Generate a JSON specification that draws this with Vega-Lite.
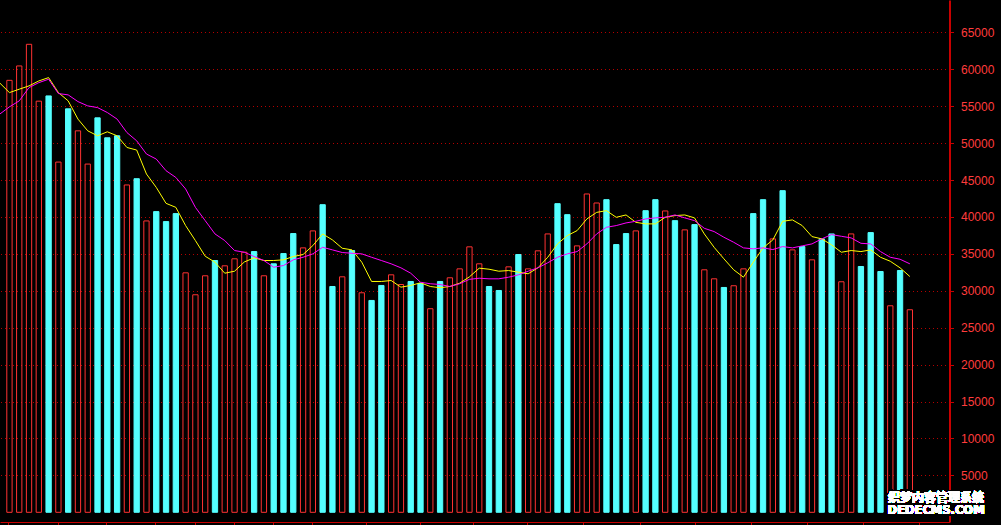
{
  "$schema": "https://vega.github.io/schema/vega-lite/v6.json",
  "autosize": "none",
  "width": 949.5,
  "height": 522,
  "padding": {"left": 0, "top": 0, "right": 51.5, "bottom": 3},
  "background": "#000000",
  "config": {"view": {"stroke": null}},
  "data": {"values": [
    {"i":-1,"m5":58150,"m10":53920},
    {"i":0,"v":58500,"t":"u","m5":56840,"m10":54910},
    {"i":1,"v":60450,"t":"u","m5":57300,"m10":55720},
    {"i":2,"v":63380,"t":"u","m5":57750,"m10":57520},
    {"i":3,"v":55680,"t":"u","m5":58420,"m10":58190},
    {"i":4,"v":56390,"t":"d","m5":58870,"m10":58650},
    {"i":5,"v":47430,"t":"u","m5":56840,"m10":56710},
    {"i":6,"v":54640,"t":"d","m5":55720,"m10":56530},
    {"i":7,"v":51660,"t":"u","m5":53250,"m10":55620},
    {"i":8,"v":47160,"t":"u","m5":51660,"m10":55040},
    {"i":9,"v":53420,"t":"d","m5":50990,"m10":54810},
    {"i":10,"v":50720,"t":"d","m5":51530,"m10":54140},
    {"i":11,"v":50990,"t":"d","m5":50990,"m10":53250},
    {"i":12,"v":44330,"t":"u","m5":49410,"m10":51430},
    {"i":13,"v":45180,"t":"d","m5":49060,"m10":50310},
    {"i":14,"v":39460,"t":"u","m5":45810,"m10":48520},
    {"i":15,"v":40720,"t":"d","m5":44000,"m10":47840},
    {"i":16,"v":39370,"t":"d","m5":41840,"m10":46260},
    {"i":17,"v":40450,"t":"d","m5":41300,"m10":45350},
    {"i":18,"v":32430,"t":"u","m5":38830,"m10":43790},
    {"i":19,"v":29460,"t":"u","m5":36800,"m10":41300},
    {"i":20,"v":32030,"t":"u","m5":34680,"m10":39500},
    {"i":21,"v":34100,"t":"d","m5":33870,"m10":37700},
    {"i":22,"v":33380,"t":"u","m5":32380,"m10":36800},
    {"i":23,"v":34330,"t":"u","m5":32650,"m10":35450},
    {"i":24,"v":35220,"t":"u","m5":33900,"m10":35220},
    {"i":25,"v":35310,"t":"d","m5":34460,"m10":34640},
    {"i":26,"v":32030,"t":"u","m5":34100,"m10":34100},
    {"i":27,"v":33650,"t":"d","m5":34100,"m10":33190},
    {"i":28,"v":35040,"t":"d","m5":34190,"m10":33420},
    {"i":29,"v":37750,"t":"d","m5":34640,"m10":34190},
    {"i":30,"v":35810,"t":"u","m5":34910,"m10":34540},
    {"i":31,"v":38110,"t":"u","m5":36120,"m10":35000},
    {"i":32,"v":41660,"t":"d","m5":37700,"m10":35890},
    {"i":33,"v":30580,"t":"d","m5":36890,"m10":35540},
    {"i":34,"v":31890,"t":"u","m5":35760,"m10":35180},
    {"i":35,"v":35450,"t":"d","m5":35540,"m10":35080},
    {"i":36,"v":29730,"t":"u","m5":33870,"m10":35000},
    {"i":37,"v":28690,"t":"d","m5":31260,"m10":34540},
    {"i":38,"v":30720,"t":"d","m5":31260,"m10":34100},
    {"i":39,"v":32160,"t":"u","m5":31390,"m10":33650},
    {"i":40,"v":30850,"t":"u","m5":30490,"m10":33110},
    {"i":41,"v":31260,"t":"d","m5":30720,"m10":32380},
    {"i":42,"v":30990,"t":"d","m5":31080,"m10":31160},
    {"i":43,"v":27570,"t":"u","m5":30580,"m10":30950},
    {"i":44,"v":31260,"t":"d","m5":30410,"m10":30850},
    {"i":45,"v":31760,"t":"u","m5":30580,"m10":30580},
    {"i":46,"v":32970,"t":"u","m5":31030,"m10":30950},
    {"i":47,"v":35950,"t":"u","m5":31890,"m10":31550},
    {"i":48,"v":33650,"t":"u","m5":33060,"m10":31700},
    {"i":49,"v":30580,"t":"d","m5":32920,"m10":31620},
    {"i":50,"v":30040,"t":"d","m5":32650,"m10":31620},
    {"i":51,"v":33240,"t":"u","m5":32740,"m10":31840},
    {"i":52,"v":34910,"t":"d","m5":32520,"m10":32160},
    {"i":53,"v":32970,"t":"u","m5":32300,"m10":32650},
    {"i":54,"v":35410,"t":"u","m5":33110,"m10":33110},
    {"i":55,"v":37700,"t":"u","m5":34540,"m10":33790},
    {"i":56,"v":41800,"t":"d","m5":36350,"m10":34540},
    {"i":57,"v":40310,"t":"d","m5":37470,"m10":35000},
    {"i":58,"v":36080,"t":"u","m5":38150,"m10":35310},
    {"i":59,"v":43110,"t":"u","m5":39730,"m10":36350},
    {"i":60,"v":41890,"t":"u","m5":40620,"m10":37700},
    {"i":61,"v":42340,"t":"d","m5":40850,"m10":38600},
    {"i":62,"v":36260,"t":"d","m5":39950,"m10":38830},
    {"i":63,"v":37750,"t":"d","m5":40270,"m10":39190},
    {"i":64,"v":38110,"t":"u","m5":39270,"m10":39410},
    {"i":65,"v":40850,"t":"d","m5":39060,"m10":39730},
    {"i":66,"v":42340,"t":"d","m5":39060,"m10":39870},
    {"i":67,"v":40810,"t":"u","m5":39950,"m10":39950},
    {"i":68,"v":39500,"t":"d","m5":40180,"m10":40270},
    {"i":69,"v":38250,"t":"u","m5":40270,"m10":39870},
    {"i":70,"v":38960,"t":"d","m5":39870,"m10":39500},
    {"i":71,"v":32840,"t":"u","m5":37700,"m10":38460},
    {"i":72,"v":31620,"t":"u","m5":35890,"m10":38020},
    {"i":73,"v":30450,"t":"d","m5":34330,"m10":37250},
    {"i":74,"v":30680,"t":"u","m5":32840,"m10":36570},
    {"i":75,"v":32970,"t":"u","m5":31840,"m10":35810},
    {"i":76,"v":40450,"t":"d","m5":33870,"m10":35680},
    {"i":77,"v":42340,"t":"d","m5":35810,"m10":35810},
    {"i":78,"v":37030,"t":"u","m5":36890,"m10":35580},
    {"i":79,"v":43560,"t":"d","m5":39410,"m10":35990},
    {"i":80,"v":35540,"t":"u","m5":39600,"m10":35810},
    {"i":81,"v":35990,"t":"d","m5":38830,"m10":36080},
    {"i":82,"v":34190,"t":"u","m5":37340,"m10":36350},
    {"i":83,"v":37030,"t":"d","m5":37030,"m10":37030},
    {"i":84,"v":37700,"t":"d","m5":36220,"m10":37610},
    {"i":85,"v":31220,"t":"u","m5":35220,"m10":37380},
    {"i":86,"v":37700,"t":"u","m5":35450,"m10":37160},
    {"i":87,"v":33290,"t":"d","m5":35310,"m10":36430},
    {"i":88,"v":37880,"t":"d","m5":35540,"m10":36350},
    {"i":89,"v":32610,"t":"d","m5":34540,"m10":35310},
    {"i":90,"v":27970,"t":"u","m5":34000,"m10":34540},
    {"i":91,"v":32750,"t":"d","m5":33110,"m10":34270},
    {"i":92,"v":27430,"t":"u","m5":31930,"m10":33650}
  ]},
  "encoding": {
    "x": {
      "field": "i", "type": "quantitative",
      "scale": {"domain": [-0.455, 95.54], "nice": false, "zero": false},
      "axis": {
        "orient": "bottom", "title": null, "labels": false, "grid": false,
        "values": [-0.18, 4.93, 9.89, 14.84, 18.93, 22.97, 26.91, 30.96, 36.38, 41.94, 47.4, 52.86, 58.62, 64.42, 70.08, 75.81, 81.5, 87.2, 92.9],
        "domainColor": "#C80000", "domainWidth": 1,
        "tickColor": "#C80000", "tickSize": 3, "tickWidth": 1
      }
    }
  },
  "layer": [
    {
      "transform": [{"filter": "datum.v != null"}],
      "mark": {"type": "bar", "width": 5.3, "strokeWidth": 1},
      "encoding": {
        "y": {
          "field": "v", "type": "quantitative",
          "scale": {"domain": [-1314, 69380], "nice": false, "zero": false},
          "axis": {
            "orient": "right", "title": null, "format": "d",
            "values": [5000, 10000, 15000, 20000, 25000, 30000, 35000, 40000, 45000, 50000, 55000, 60000, 65000],
            "grid": true, "gridColor": "#B40000", "gridDash": [1, 3], "gridWidth": 1,
            "domainColor": "#C80000", "domainWidth": 2,
            "tickColor": "#C80000", "tickSize": 4, "tickWidth": 1,
            "labelColor": "#FF3C3C", "labelFont": "Liberation Sans", "labelFontSize": 12,
            "labelPadding": 7, "labelFlush": false, "labelOverlap": false
          }
        },
        "y2": {"datum": 0},
        "fill": {"field": "t", "type": "nominal", "scale": {"domain": ["u", "d"], "range": ["transparent", "#54FFFF"]}, "legend": null},
        "stroke": {"field": "t", "type": "nominal", "scale": {"domain": ["u", "d"], "range": ["#FF3232", "#54FFFF"]}, "legend": null}
      }
    },
    {
      "mark": {"type": "line", "color": "#FFFF00", "strokeWidth": 1, "clip": true},
      "encoding": {"y": {"field": "m5", "type": "quantitative"}}
    },
    {
      "mark": {"type": "line", "color": "#FF00FF", "strokeWidth": 1, "clip": true},
      "encoding": {"y": {"field": "m10", "type": "quantitative"}}
    },
    {
      "mark": {"type": "text", "font": "Noto Sans CJK SC", "fontWeight": "bold", "fontSize": 12, "fill": "#000000", "stroke": "#000000", "strokeWidth": 3, "align": "center", "baseline": "middle"},
      "encoding": {"x": {"datum": 94.68}, "y": {"datum": 2004}, "text": {"value": "织梦内容管理系统"}}
    },
    {
      "mark": {"type": "text", "font": "DejaVu Sans", "fontWeight": "bold", "fontSize": 11.5, "fill": "#000000", "stroke": "#000000", "strokeWidth": 3, "align": "center", "baseline": "middle"},
      "encoding": {"x": {"datum": 94.68}, "y": {"datum": 176}, "text": {"value": "DEDECMS.COM"}}
    },
    {
      "mark": {"type": "text", "font": "Noto Sans CJK SC", "fontWeight": "bold", "fontSize": 12, "fill": "#FFFFFF", "align": "center", "baseline": "middle"},
      "encoding": {"x": {"datum": 94.68}, "y": {"datum": 2004}, "text": {"value": "织梦内容管理系统"}}
    },
    {
      "mark": {"type": "text", "font": "DejaVu Sans", "fontWeight": "bold", "fontSize": 11.5, "fill": "#FFFFFF", "align": "center", "baseline": "middle"},
      "encoding": {"x": {"datum": 94.68}, "y": {"datum": 176}, "text": {"value": "DEDECMS.COM"}}
    }
  ]
}
